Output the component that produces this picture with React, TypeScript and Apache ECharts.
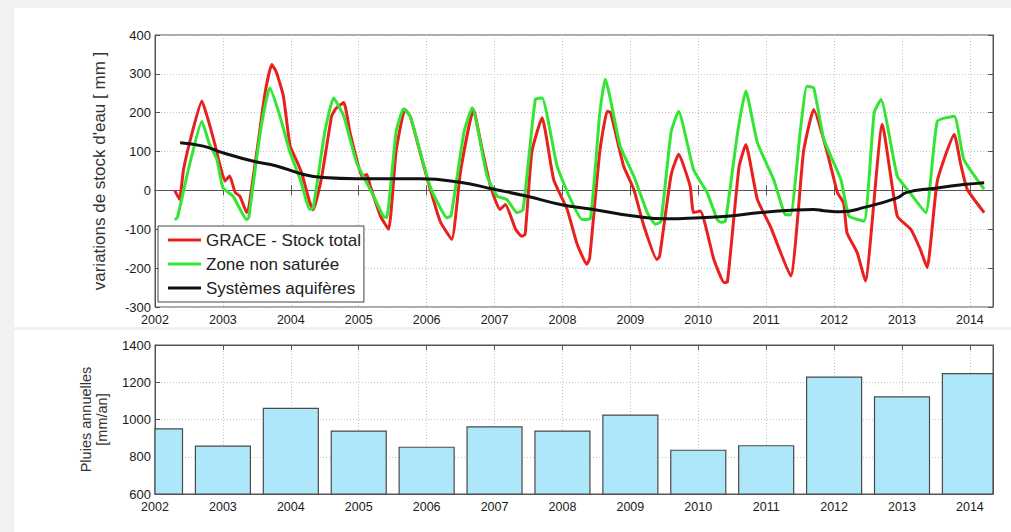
import React, { useEffect, useRef } from "react";
import * as echarts from "echarts";

// ---- Data (decimal year, mm) ----
const graceTotal: [number, number][] = [
  [2002.29, 0], [2002.36, -23], [2002.42, 54], [2002.56, 157], [2002.69, 230], [2002.76, 195],
  [2002.88, 120], [2002.96, 63], [2003.03, 24], [2003.10, 37], [2003.18, -5], [2003.25, -15],
  [2003.35, -57], [2003.50, 100], [2003.62, 250], [2003.72, 324], [2003.79, 303], [2003.89, 243],
  [2003.99, 114], [2004.09, 75], [2004.16, 45], [2004.28, -31], [2004.33, -50], [2004.45, 30],
  [2004.60, 191], [2004.66, 210], [2004.78, 226], [2004.87, 150], [2004.97, 80], [2005.05, 35],
  [2005.12, 41], [2005.17, 11], [2005.32, -66], [2005.44, -100], [2005.55, 100], [2005.68, 208],
  [2005.76, 190], [2005.90, 100], [2006.05, 5], [2006.20, -80], [2006.37, -126], [2006.50, 50],
  [2006.69, 208], [2006.80, 120], [2006.94, 11], [2007.08, -49], [2007.16, -36], [2007.31, -100],
  [2007.40, -118], [2007.45, -113], [2007.55, 100], [2007.70, 187], [2007.87, 28], [2008.07, -49],
  [2008.21, -135], [2008.36, -190], [2008.40, -175], [2008.55, 100], [2008.66, 204], [2008.71, 200],
  [2008.90, 63], [2009.05, 3], [2009.20, -92], [2009.39, -178], [2009.43, -170], [2009.60, 40],
  [2009.71, 93], [2009.88, 11], [2009.93, -57], [2010.03, -53], [2010.23, -178], [2010.38, -237],
  [2010.43, -235], [2010.60, 60], [2010.70, 118], [2010.87, -23], [2011.06, -92], [2011.36, -220],
  [2011.55, 100], [2011.70, 208], [2011.90, 97], [2012.05, -6], [2012.14, -32], [2012.19, -109],
  [2012.34, -160], [2012.46, -233], [2012.71, 170], [2012.93, -66], [2013.13, -100], [2013.27, -152],
  [2013.37, -199], [2013.52, 24], [2013.77, 144], [2013.86, 71], [2013.96, 3], [2014.21, -57],
];

const zoneNonSaturee: [number, number][] = [
  [2002.29, -75], [2002.33, -70], [2002.50, 60], [2002.69, 178], [2002.80, 120], [2002.91, 80],
  [2003.00, 7], [2003.15, -15], [2003.35, -75], [2003.38, -70], [2003.55, 150], [2003.69, 264],
  [2003.84, 191], [2003.99, 97], [2004.14, 28], [2004.28, -49], [2004.33, -45], [2004.50, 150],
  [2004.63, 238], [2004.78, 191], [2004.97, 71], [2005.22, -15], [2005.36, -66], [2005.41, -70],
  [2005.55, 150], [2005.66, 210], [2005.76, 190], [2006.05, 11], [2006.30, -70], [2006.36, -65],
  [2006.55, 150], [2006.67, 213], [2006.89, 37], [2007.04, -15], [2007.18, -23], [2007.33, -57],
  [2007.42, -50], [2007.60, 234], [2007.70, 238], [2007.92, 63], [2008.12, -23], [2008.29, -75],
  [2008.41, -73], [2008.55, 200], [2008.63, 286], [2008.85, 114], [2009.05, 37], [2009.25, -57],
  [2009.37, -87], [2009.45, -80], [2009.60, 150], [2009.71, 204], [2009.93, 54], [2010.13, -6],
  [2010.28, -75], [2010.33, -82], [2010.40, -79], [2010.58, 150], [2010.70, 256], [2010.87, 123],
  [2011.11, 28], [2011.28, -62], [2011.36, -63], [2011.50, 150], [2011.60, 268], [2011.70, 264],
  [2011.85, 131], [2012.10, 28], [2012.22, -66], [2012.44, -79], [2012.59, 200], [2012.69, 234],
  [2012.93, 37], [2013.10, -2], [2013.35, -57], [2013.52, 178], [2013.77, 191], [2013.91, 80],
  [2014.21, 3],
];

const systemesAquiferes: [number, number][] = [
  [2002.37, 123], [2002.71, 114], [2003.00, 97], [2003.45, 75], [2003.79, 63], [2004.19, 41],
  [2004.48, 33], [2004.97, 30], [2005.91, 30], [2006.49, 21], [2006.99, 3], [2007.48, -15],
  [2007.97, -36], [2008.46, -49], [2009.05, -66], [2009.54, -73], [2010.03, -70], [2010.47, -66],
  [2010.92, -57], [2011.70, -49], [2011.85, -52], [2012.09, -55], [2012.46, -43], [2012.93, -19],
  [2013.07, -5], [2013.46, 5], [2013.91, 15], [2014.21, 20],
];

const rainYears = [2002, 2003, 2004, 2005, 2006, 2007, 2008, 2009, 2010, 2011, 2012, 2013, 2014];
const rainValues = [950, 857, 1060, 938, 851, 960, 938, 1024, 835, 859, 1228, 1121, 1246];

const seriesNames = ["GRACE - Stock total", "Zone non saturée", "Systèmes aquifères"];
const seriesColors = ["#e8201e", "#33e633", "#111111"];

const FONT = "'Liberation Sans', Arial, Helvetica, sans-serif";
const X_MIN = 2002;
const X_MAX = 2014.34;
const RAIN_MIN = 600;
const RAIN_MAX = 1400;
const BAR_HALF = 0.405; // half bar width, in years

export default function App() {
  const ref = useRef<HTMLDivElement>(null);

  useEffect(() => {
    if (!ref.current) return;
    const chart = echarts.init(ref.current, null, { renderer: "svg" });

    const split = { show: true, lineStyle: { color: "#c4c4c4", type: [1, 2] as any, width: 1 } };
    const axisLine = { show: true, lineStyle: { color: "#555", width: 1 } };
    const tick = { show: true, inside: true, length: 5, lineStyle: { color: "#555" } };
    const yearFmt = (v: number) => (Math.abs(v - Math.round(v)) < 1e-6 ? String(Math.round(v)) : "");
    const numFmt = (v: number) => String(v);

    const xMain = (gridIndex: number) => ({
      type: "value", gridIndex, min: X_MIN, max: X_MAX, interval: 1, position: "bottom",
      axisLine, axisTick: tick, splitLine: split,
      axisLabel: { formatter: yearFmt, showMaxLabel: false, color: "#1a1a1a", fontSize: 12.5, fontFamily: FONT, margin: 6 },
    });
    const xTop = (gridIndex: number) => ({
      type: "value", gridIndex, min: X_MIN, max: X_MAX, interval: 1, position: "top",
      axisLine, axisTick: tick, splitLine: { show: false }, axisLabel: { show: false },
    });

    const option: any = {
      animation: false,
      backgroundColor: "#f1f1f1",
      graphic: [
        { type: "rect", z: -100, silent: true, shape: { x: 14, y: 8, width: 997, height: 319 }, style: { fill: "#ffffff" } },
        { type: "rect", z: -100, silent: true, shape: { x: 14, y: 330, width: 997, height: 202 }, style: { fill: "#ffffff" } },
      ],
      grid: [
        { left: 155, right: 18, top: 35, height: 272, show: true, borderColor: "#555", borderWidth: 1, backgroundColor: "transparent" },
        { left: 155, right: 18, top: 345, height: 149, show: true, borderColor: "#555", borderWidth: 1, backgroundColor: "transparent" },
      ],
      xAxis: [xMain(0), xTop(0), xMain(1), xTop(1)],
      yAxis: [
        {
          type: "value", gridIndex: 0, min: -300, max: 400, interval: 100, position: "left",
          axisLine, axisTick: tick, splitLine: split,
          axisLabel: { formatter: numFmt, color: "#1a1a1a", fontSize: 13, fontFamily: FONT, margin: 4 },
          name: "variations de stock d'eau [ mm ]", nameLocation: "middle", nameGap: 47,
          nameTextStyle: { color: "#333", fontSize: 17, fontFamily: FONT },
        },
        {
          type: "value", gridIndex: 0, min: -300, max: 400, interval: 100, position: "right",
          axisLine, axisTick: tick, splitLine: { show: false }, axisLabel: { show: false },
        },
        {
          type: "value", gridIndex: 1, min: RAIN_MIN, max: RAIN_MAX, interval: 200, position: "left",
          axisLine, axisTick: tick, splitLine: split,
          axisLabel: { formatter: numFmt, color: "#1a1a1a", fontSize: 13, fontFamily: FONT, margin: 4 },
          name: "Pluies annuelles\n[mm/an]", nameLocation: "middle", nameGap: 45,
          nameTextStyle: { color: "#333", fontSize: 14.5, fontFamily: FONT, lineHeight: 16, align: "center" },
        },
        {
          type: "value", gridIndex: 1, min: RAIN_MIN, max: RAIN_MAX, interval: 200, position: "right",
          axisLine, axisTick: tick, splitLine: { show: false }, axisLabel: { show: false },
        },
      ],
      legend: {
        data: seriesNames,
        orient: "vertical",
        left: 158,
        top: 226,
        icon: "rect",
        itemWidth: 33,
        itemHeight: 3,
        itemGap: 6,
        padding: [5, 3, 5, 10],
        borderColor: "#444",
        borderWidth: 1,
        backgroundColor: "#ffffff",
        textStyle: { color: "#222", fontSize: 17, fontFamily: FONT, lineHeight: 18 },
        z: 10,
      },
      series: [
        {
          name: seriesNames[0], type: "line", xAxisIndex: 0, yAxisIndex: 0, data: graceTotal,
          symbol: "none", smooth: 0.15, lineStyle: { color: seriesColors[0], width: 3 }, itemStyle: { color: seriesColors[0] }, z: 3,
        },
        {
          name: seriesNames[1], type: "line", xAxisIndex: 0, yAxisIndex: 0, data: zoneNonSaturee,
          symbol: "none", smooth: 0.15, lineStyle: { color: seriesColors[1], width: 3 }, itemStyle: { color: seriesColors[1] }, z: 4,
        },
        {
          name: seriesNames[2], type: "line", xAxisIndex: 0, yAxisIndex: 0, data: systemesAquiferes,
          symbol: "none", smooth: true, lineStyle: { color: seriesColors[2], width: 3 }, itemStyle: { color: seriesColors[2] }, z: 5,
        },
        {
          name: "Pluies annuelles", type: "custom", xAxisIndex: 2, yAxisIndex: 2,
          data: rainYears.map((y, i) => [y, rainValues[i]]),
          encode: { x: 0, y: 1 },
          z: 2,
          renderItem: (params: any, api: any) => {
            const year = api.value(0);
            const val = api.value(1);
            const tl = api.coord([year - BAR_HALF, val]);
            const br = api.coord([year + BAR_HALF, RAIN_MIN]);
            const cs = params.coordSys;
            const shape = echarts.graphic.clipRectByRect(
              { x: tl[0], y: tl[1], width: br[0] - tl[0], height: br[1] - tl[1] },
              { x: cs.x, y: cs.y, width: cs.width, height: cs.height }
            );
            if (!shape) return null;
            return {
              type: "rect",
              shape,
              style: { fill: "#aee7f9", stroke: "#4a4a4a", lineWidth: 1.2 },
            };
          },
        },
      ],
    };

    chart.setOption(option);
    return () => chart.dispose();
  }, []);

  return (
    <div
      ref={ref}
      style={{ position: "fixed", left: 0, top: 0, width: 1011, height: 532 }}
    />
  );
}
